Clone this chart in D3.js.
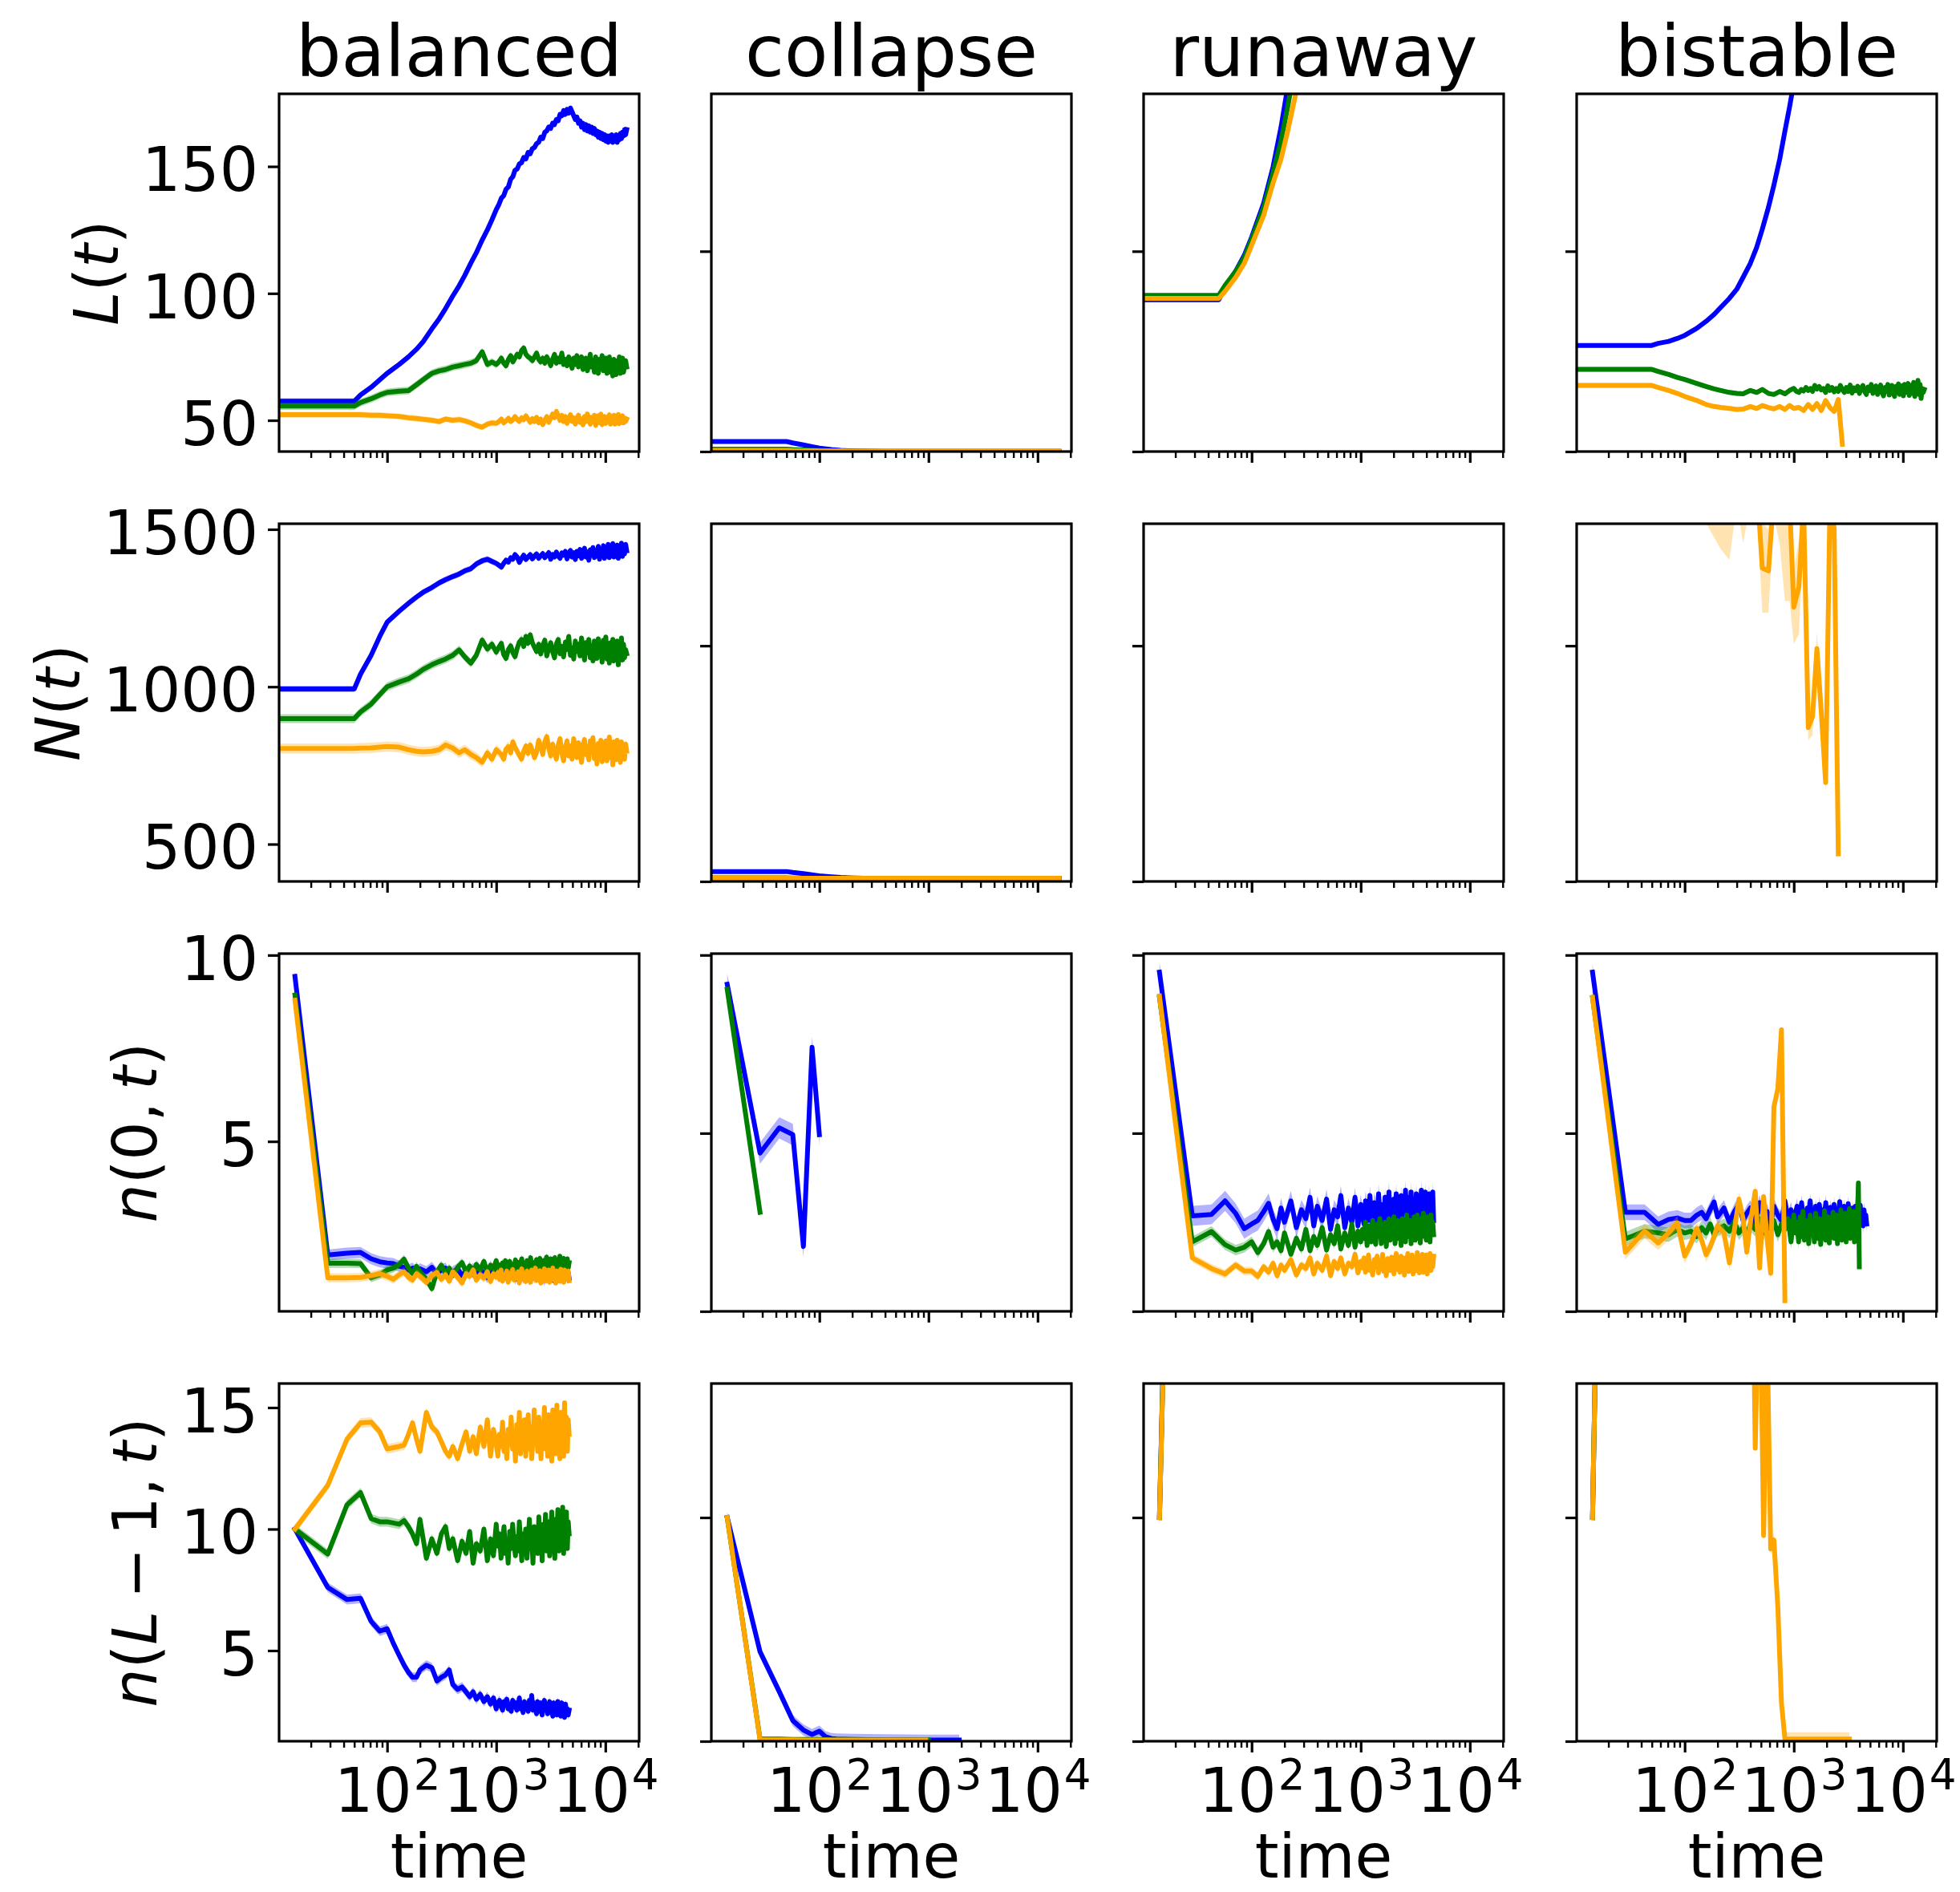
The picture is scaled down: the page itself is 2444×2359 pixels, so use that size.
<!DOCTYPE html>
<html>
<head>
<meta charset="utf-8">
<title>Chain dynamics by regime</title>
<script src="https://cdn.jsdelivr.net/npm/d3@7/dist/d3.min.js"></script>
<style>
  html, body { margin: 0; padding: 0; background: #fff; }
  svg { display: block; }
  text { font-family: "DejaVu Sans", sans-serif; fill: #000; }
</style>
</head>
<body>
<svg id="fig" width="2444" height="2359" xmlns="http://www.w3.org/2000/svg"></svg>
<script>
// ---------------------------------------------------------------------------
// Categories
// ---------------------------------------------------------------------------
const SCENARIOS = ["balanced", "collapse", "runaway", "bistable"];
const QUANTITIES = ["L", "N", "n0", "nL"];
const SERIES_COLORS = { blue: "#0000ff", green: "#008000", orange: "#ffa500" };

// ---------------------------------------------------------------------------
// Sampling times
// ---------------------------------------------------------------------------
const TIME_A = [1, 14.3, 28.6, 50, 57.1, 71.4, 85.7, 100, 129, 157, 186, 214, 257, 300, 343, 400,
  457, 514, 586, 657, 743, 829, 914, 1000, 1114, 1229, 1357, 1486, 1629, 1786, 1957, 2143,
  2343, 2557, 2786, 3029, 3286, 3557, 3843, 4143, 4457, 4786, 5129, 5486, 5857, 6243, 6643, 7057,
  7486, 7929, 8386, 8857, 9343, 9843, 10357, 10886, 11429, 11986, 12557, 13143, 13743, 14357, 15000, 15700];
// finer sampling of the long runs
const TIME_A2 = [1, 14.3, 28.6, 50, 57.1, 71.4, 85.7, 100, 129, 157, 186, 214, 257, 300, 343, 400,
  457, 514, 586, 657, 743, 829, 914, 1000,
  1057, 1114, 1171, 1229, 1293, 1357, 1421, 1486, 1557, 1629, 1707, 1786, 1871, 1957, 2050, 2143,
  2243, 2343, 2450, 2557, 2671, 2786, 2907, 3029, 3157, 3286, 3421, 3557, 3700, 3843, 3993, 4143,
  4300, 4457, 4621, 4786, 4957, 5129, 5307, 5486, 5671, 5857, 6050, 6243, 6443, 6643, 6850, 7057,
  7271, 7486, 7707, 7929, 8157, 8386, 8621, 8857, 9100, 9343, 9593, 9843, 10100, 10357, 10621, 10886,
  11157, 11429, 11707, 11986, 12271, 12557, 12850, 13143, 13443, 13743, 14050, 14357, 14679, 15000, 15350, 15700];
const TIME_SPARSE = [1, 14.3, 28.6, 50, 57.1, 71.4, 85.7, 100, 129, 157, 186, 214, 257, 300, 400, 1000, 3000, 8000, 15700];
const TIME_B = [14.3, 28.6, 42.9, 57.1, 71.4, 85.7, 100, 114, 129, 143, 157, 171, 186, 200, 229, 257,
  286, 314, 343, 371, 400, 443, 486, 529, 571, 614, 657, 714, 771, 829, 886, 943,
  1000, 1071, 1143, 1214, 1286, 1371, 1457, 1543, 1629, 1714, 1814, 1914, 2014, 2114, 2229, 2343,
  2457, 2571, 2700, 2829, 2957, 3086, 3229, 3371, 3514, 3671, 3829, 3986, 4143, 4314, 4486, 4657];
const TIME_B2 = [14.3, 28.6, 42.9, 57.1, 71.4, 85.7, 100, 114, 129, 143, 157, 171, 186, 200, 229, 257,
  286, 314, 343, 371, 400, 443, 486, 529, 571, 614, 657, 714, 771, 829, 886, 943, 1000,
  1035, 1071, 1107, 1143, 1179, 1214, 1250, 1286, 1329, 1371, 1414, 1457, 1500, 1543, 1586, 1629,
  1671, 1714, 1764, 1814, 1864, 1914, 1964, 2014, 2064, 2114, 2171, 2229, 2286, 2343, 2400, 2457,
  2514, 2571, 2636, 2700, 2764, 2829, 2893, 2957, 3021, 3086, 3157, 3229, 3300, 3371, 3443, 3514,
  3593, 3671, 3750, 3829, 3907, 3986, 4064, 4143, 4229, 4314, 4400, 4486, 4571, 4657];
const TIME_C4 = [14.3, 28.6, 42.9, 57.1, 71.4, 85.7, 100, 114, 129, 143, 200, 400, 943, 1000, 1914];

// ---------------------------------------------------------------------------
// L(t): chain length
// ---------------------------------------------------------------------------
const L_BAL_BLUE = [57.5, 57.5, 57.5, 57.5, 60, 63, 66, 68.5, 72, 75, 78, 81, 86, 90, 94, 99,
  103, 107, 112, 116, 121, 125, 129, 133,
  135, 137.5, 138.5, 141, 142, 145, 146, 148.5, 149, 151,
  151.5, 153.5, 153, 155.5, 155, 157, 157.5, 159, 159.5, 161.5,
  161, 163.5, 164, 165.5, 165, 167, 166.5, 168.5, 168, 170.5,
  170, 172, 170.5, 172.5, 171, 173, 171.5, 170, 168.5, 169.5,
  167, 168, 165.5, 167, 164.5, 166.5, 164, 166, 163.5, 165.5,
  163, 165, 162.5, 164, 161.5, 163.5, 161, 163, 160.5, 162.5,
  160, 162, 159.5, 162, 160, 162.5, 159.5, 162, 160, 162.5,
  159.5, 162, 160.5, 163, 161, 163.5, 162, 164.5, 162.5, 164.5];
const L_BAL_GREEN = [55.6, 55.6, 55.6, 55.6, 57, 58.5, 60, 61, 61.5, 61.7, 64, 66, 68.5, 69.5, 70, 71,
  71.5, 72, 72.5, 73.5, 77, 72, 73, 72,
  73, 74.5, 72.5, 71.5, 74, 75.5, 73, 74.5, 76, 75,
  77.5, 78.5, 76, 75, 74.5, 73.5, 75, 76.5, 74, 73,
  74.5, 72.5, 75, 73.5, 71.5, 74, 76, 72.5, 74.5, 73,
  76.5, 72, 74, 71.5, 75, 73, 70.5, 74.5, 72, 75.5,
  71, 73.5, 75, 70, 72.5, 74.5, 69.5, 73, 76, 71,
  73.5, 69, 75, 71.5, 68.5, 74, 72, 75.5, 69.5, 72.5,
  74.5, 68.5, 71.5, 75, 69, 73, 67.5, 74, 71, 68,
  73.5, 70, 75, 68.5, 72, 74.5, 69, 71.5, 73.5, 71];
const L_BAL_ORANGE = [52.2, 52.2, 52.2, 52.2, 52.2, 52, 52, 51.8, 51.5, 51, 50.7, 50.4, 50, 49.5, 50.5, 50,
  50.3, 49.8, 49, 48, 47.3, 48.5, 49, 48.8,
  49.5, 50.5, 49, 49.8, 50.8, 49.5, 50.2, 51.5, 50.3, 49.6,
  51, 50.2, 51.8, 50.5, 49.2, 50.7, 49.5, 51.2, 49, 50.5,
  48.3, 50, 51.5, 49.2, 50.8, 52.5, 51, 53.5, 51.8, 50,
  52, 49.5, 51.5, 48.8, 50.5, 52.2, 49.6, 51, 48.5, 50.8,
  52, 49.2, 50.5, 48.2, 51.5, 49.5, 52.5, 50, 48.5, 51.2,
  49.3, 52, 48, 50.5, 51.8, 49, 52.5, 48.3, 50.2, 51.5,
  48.8, 51, 49.5, 52.2, 48.5, 50.8, 49.2, 52, 48.5, 51.5,
  49.5, 52.3, 48.7, 50.5, 49.2, 51.8, 49, 50.8, 49.6, 50.5];

const L_COL_BLUE = [5, 5, 5, 5, 4.3, 3.3, 2.4, 1.7, 1.0, 0.6, 0.4, 0.3, 0.25, 0.2, 0.15, 0.12, 0.12, 0.12, 0.12];
const L_COL_GREEN = [1.2, 1.2, 1.2, 1.2, 1.0, 0.8, 0.6, 0.5, 0.4, 0.3, 0.25, 0.2, 0.2, 0.15, 0.12, 0.1, 0.1, 0.1, 0.1];
const L_COL_ORANGE = [0.6, 0.6, 0.6, 0.6, 0.5, 0.45, 0.4, 0.35, 0.3, 0.3, 0.25, 0.2, 0.2, 0.2, 0.2, 0.2, 0.2, 0.2, 0.2];

const L_RUN_BLUE = [75.8, 75.8, 75.8, 75.8, 82, 90, 98, 107, 124, 142, 162, 182, 215, 250];
const L_RUN_GREEN = [78, 78, 78, 78, 83, 90, 97, 106, 122, 139, 155, 172, 196, 225];
const L_RUN_ORANGE = [76.5, 76.5, 76.5, 76.5, 80, 87, 94, 103, 118, 134, 146, 160, 180, 205];

const L_BIS_BLUE = [53, 53, 53, 53, 54, 55, 56.5, 58, 61.5, 65, 68.5, 72, 76.5, 81, 87, 94,
  102, 111, 122, 133, 146, 160, 172, 184, 200, 215];
const L_BIS_GREEN = [41, 41, 41, 41, 40, 38.5, 37, 36, 34, 32.5, 31.3, 30.5, 29.5, 29, 28.8, 30.5,
  29.5, 31, 29, 28.5, 30, 28.8, 30.5, 31.5,
  30, 29.5, 31, 30.2, 32, 30.5, 31.5, 30, 33, 31.2,
  32.5, 30.8, 31.5, 29.5, 32.8, 30.5, 32, 29.8, 31.5, 30,
  33, 31, 29.5, 32, 30, 33.2, 29.2, 31.8, 30.4, 32.6,
  29, 31.5, 33, 30, 28.5, 32.2, 30.5, 33.5, 29, 31.2,
  32.8, 28.5, 31, 33.2, 29.5, 27.8, 32, 30.2, 33.5, 28.2,
  31.5, 33, 29, 27.5, 32.5, 30, 33.8, 28.5, 31, 32.8,
  27.8, 33.5, 29.5, 31.5, 34, 28, 30.5, 33, 29, 34.5,
  27.5, 32, 30, 35.5, 28.5, 33.5, 26.5, 31.5, 29.5, 31];
const L_BIS_ORANGE = [33, 33, 33, 33, 32, 30.5, 29, 27.5, 25.5, 23.5, 22.5, 22, 21.5, 21, 21.2, 22.5,
  21.5, 23, 22, 21.3, 22.5, 21, 23, 21.5, 22, 20.5, 23.5, 21, 24, 20.5, 25.5, 22,
  20, 26, 3.6];

// ---------------------------------------------------------------------------
// N(t): total population
// ---------------------------------------------------------------------------
const N_BAL_BLUE = [993, 993, 993, 993, 1040, 1100, 1160, 1205, 1240, 1265, 1285, 1300, 1315, 1330, 1340, 1350,
  1358, 1368, 1375, 1390, 1400, 1405, 1398, 1392,
  1386, 1380, 1392, 1402, 1396, 1410, 1405, 1420, 1412, 1395,
  1408, 1418, 1404, 1412, 1420, 1406, 1415, 1422, 1408, 1416,
  1423, 1410, 1418, 1426, 1405, 1420, 1412, 1428, 1415, 1408,
  1425, 1418, 1430, 1406, 1422, 1433, 1412, 1426, 1404, 1430,
  1416, 1436, 1408, 1425, 1440, 1412, 1428, 1402, 1435, 1418,
  1442, 1410, 1430, 1415, 1446, 1405, 1432, 1420, 1448, 1408,
  1436, 1418, 1452, 1410, 1440, 1424, 1455, 1412, 1438, 1420,
  1450, 1408, 1442, 1426, 1456, 1414, 1445, 1422, 1452, 1432];
const N_BAL_GREEN = [899, 899, 899, 899, 920, 945, 975, 1000, 1015, 1025, 1040, 1055, 1070, 1080, 1088, 1100,
  1117, 1095, 1075, 1100, 1148, 1120, 1135, 1110,
  1125, 1138, 1102, 1090, 1118, 1130, 1108, 1095, 1122, 1142,
  1150, 1128, 1160, 1138, 1165, 1140, 1125, 1112, 1135, 1104,
  1130, 1148, 1098, 1122, 1140, 1112, 1092, 1136, 1150, 1105,
  1128, 1095, 1142, 1118, 1160, 1100, 1124, 1088, 1145, 1112,
  1135, 1098, 1155, 1120, 1085, 1140, 1108, 1150, 1092, 1130,
  1082, 1145, 1115, 1090, 1152, 1100, 1135, 1078, 1148, 1110,
  1158, 1088, 1125, 1075, 1140, 1098, 1150, 1082, 1132, 1105,
  1145, 1070, 1128, 1098, 1155, 1085, 1135, 1092, 1118, 1105];
const N_BAL_ORANGE = [804, 804, 804, 804, 805, 806, 808, 810, 808, 800, 795, 793, 795, 800, 815, 805,
  790, 800, 785, 775, 760, 790, 770, 800,
  792, 785, 770, 802, 810, 790, 825, 808, 795, 782,
  770, 795, 812, 788, 815, 798, 775, 792, 830, 810,
  785, 825, 842, 805, 780, 818, 792, 770, 815, 835,
  790, 765, 808, 828, 780, 812, 770, 835, 798, 775,
  822, 790, 760, 815, 832, 785, 805, 768, 828, 795,
  838, 772, 810, 755, 820, 790, 830, 762, 812, 785,
  828, 765, 805, 840, 775, 815, 752, 825, 790, 768,
  830, 778, 812, 760, 825, 785, 808, 770, 818, 795];

const N_COL_BLUE = [42, 42, 42, 42, 38, 33, 28, 24, 20, 17, 15.5, 14.5, 14, 14, 14, 14, 14, 14, 14];
const N_COL_GREEN = [15, 15, 15, 15, 14.5, 14, 14, 14, 14, 14, 14, 14, 14, 14, 14, 14, 14, 14, 14];
const N_COL_ORANGE = [14, 14, 14, 14, 14, 14, 14, 14, 14, 14, 14, 14, 14, 14, 14, 14, 14, 14, 14];

const N_RUN_BLUE = [1700, 1700, 1700, 1700, 1780, 1900, 2050, 2200];
const N_RUN_GREEN = [1760, 1760, 1760, 1760, 1830, 1940, 2080, 2230];
const N_RUN_ORANGE = [1720, 1720, 1720, 1720, 1790, 1890, 2020, 2160];

const N_BIS_BLUE = [1760, 1760, 1760, 1760, 1780, 1810, 1850, 1900, 1980, 2080];
const N_BIS_GREEN = [1640, 1640, 1640, 1640, 1650, 1660, 1670, 1680, 1690, 1700];
const N_BIS_ORANGE = [1900, 1900, 1900, 1900, 1880, 1850, 1820, 1800, 1760, 1700, 1700, 1700, 1700, 1700, 1700, 1700,
  1700, 1330, 1318, 1650, 1700, 1650, 1620, 1164, 1250, 1600, 653, 700, 988, 718, 420, 1600,
  1500, 117];
const N_BIS_ORANGE_CI = [60, 60, 60, 60, 60, 60, 60, 60, 60, 180, 240, 290, 335, 100, 265, 100,
  100, 190, 177, 100, 270, 460, 430, 157, 200, 100, 53, 80, 71, 50, 40, 100,
  100, 30];

// ---------------------------------------------------------------------------
// n(0, t): occupancy of the first site
// ---------------------------------------------------------------------------
const N0_BAL_BLUE = [9.43, 1.95, 2.0, 2.02, 1.85, 1.77, 1.74, 1.72, 1.65, 1.62, 1.55, 1.6, 1.48, 1.58, 1.5, 1.62,
  1.45, 1.55, 1.6, 1.42, 1.5, 1.58, 1.4, 1.52, 1.45, 1.6, 1.38, 1.55, 1.47, 1.35, 1.52, 1.44, 1.58,
  1.42, 1.36, 1.5, 1.55, 1.4, 1.48, 1.33, 1.45, 1.56, 1.38,
  1.5, 1.42, 1.3, 1.47, 1.55, 1.36, 1.44, 1.52, 1.32, 1.46,
  1.4, 1.54, 1.35, 1.28, 1.48, 1.42, 1.55, 1.33, 1.45, 1.38,
  1.52, 1.3, 1.46, 1.4, 1.56, 1.34, 1.27, 1.48, 1.42, 1.35,
  1.53, 1.3, 1.45, 1.38, 1.5, 1.26, 1.44, 1.36, 1.52, 1.31,
  1.46, 1.4, 1.28, 1.5, 1.35, 1.43, 1.55, 1.3, 1.45, 1.38,
  1.48, 1.33];
const N0_BAL_GREEN = [8.93, 1.73, 1.73, 1.72, 1.34, 1.42, 1.55, 1.6, 1.7, 1.84, 1.6, 1.45, 1.65, 1.5, 1.3, 1.05,
  1.5, 1.68, 1.45, 1.6, 1.4, 1.62, 1.75, 1.5, 1.66, 1.42, 1.7, 1.55, 1.78, 1.48, 1.68, 1.58, 1.8,
  1.55, 1.68, 1.5, 1.74, 1.62, 1.8, 1.52, 1.66, 1.78, 1.58,
  1.7, 1.5, 1.82, 1.63, 1.55, 1.76, 1.6, 1.85, 1.52, 1.7,
  1.64, 1.8, 1.55, 1.72, 1.88, 1.6, 1.5, 1.75, 1.66, 1.83,
  1.57, 1.7, 1.86, 1.52, 1.68, 1.8, 1.6, 1.74, 1.9, 1.55,
  1.72, 1.62, 1.85, 1.5, 1.76, 1.66, 1.88, 1.56, 1.7, 1.82,
  1.6, 1.92, 1.55, 1.74, 1.68, 1.86, 1.58, 1.78, 1.64, 1.85,
  1.6, 1.75];
const N0_BAL_ORANGE = [8.79, 1.34, 1.34, 1.35, 1.4, 1.45, 1.38, 1.3, 1.42, 1.5, 1.35, 1.28, 1.45, 1.38, 1.22, 1.4,
  1.48, 1.3, 1.42, 1.25, 1.5, 1.35, 1.2, 1.45, 1.38, 1.55, 1.28, 1.42, 1.33, 1.5, 1.24, 1.45, 1.36,
  1.48, 1.3, 1.55, 1.25, 1.42, 1.35, 1.52, 1.22, 1.46, 1.38,
  1.56, 1.28, 1.44, 1.33, 1.5, 1.2, 1.45, 1.58, 1.3, 1.4,
  1.24, 1.52, 1.36, 1.47, 1.22, 1.55, 1.32, 1.44, 1.6, 1.27,
  1.42, 1.35, 1.53, 1.2, 1.48, 1.3, 1.58, 1.25, 1.45, 1.38,
  1.55, 1.22, 1.46, 1.34, 1.6, 1.28, 1.43, 1.2, 1.52, 1.36,
  1.48, 1.25, 1.57, 1.32, 1.44, 1.22, 1.55, 1.3, 1.46, 1.38,
  1.52, 1.26];

const N0_COL_BLUE = [9.18, 4.44, 5.15, 4.96, 1.82, 7.41, 4.96];
const N0_COL_GREEN = [9.04, 2.78];

const N0_RUN_BLUE = [9.52, 2.68, 2.72, 3.1, 2.75, 2.32, 2.45, 2.55, 2.8, 3.03, 2.6, 2.32, 2.9, 2.5, 3.1, 2.35,
  2.85, 2.6, 3.2, 2.4, 2.95, 2.55, 3.15, 2.3, 2.85, 2.65, 3.25, 2.35, 2.9, 2.5, 3.2, 2.4, 3.0,
  2.7, 2.45, 3.1, 2.85, 2.55, 3.25, 2.65, 2.4, 3.05, 2.9,
  2.5, 3.3, 2.75, 2.35, 3.0, 2.6, 3.2, 2.45, 2.85, 3.35,
  2.55, 2.95, 2.4, 3.15, 2.7, 3.3, 2.5, 2.9, 2.38, 3.25,
  2.65, 3.05, 2.45, 3.4, 2.75, 2.5, 3.2, 2.6, 3.35, 2.4,
  2.95, 3.15, 2.55, 3.3, 2.7, 2.42, 3.1, 2.8, 3.4, 2.5,
  3.0, 2.6, 3.35, 2.45, 3.15, 2.75, 3.3, 2.5, 3.05, 2.65,
  3.35, 2.55];
const N0_RUN_GREEN = [8.81, 1.95, 2.24, 1.87, 1.72, 1.8, 1.95, 1.65, 1.9, 2.24, 1.8, 1.95, 1.7, 2.2, 1.6, 2.05,
  1.75, 2.3, 1.7, 2.1, 1.85, 2.35, 1.72, 2.15, 1.9, 2.4, 1.75, 2.2, 1.85, 2.45, 1.8, 2.25, 1.95,
  2.3, 2.05, 2.5, 1.85, 2.2, 2.4, 1.95, 2.55, 2.1, 1.88,
  2.45, 2.25, 2.6, 1.9, 2.3, 2.05, 2.5, 1.82, 2.35, 2.6,
  2.0, 2.45, 2.15, 2.65, 1.9, 2.3, 2.55, 2.05, 2.4, 1.85,
  2.6, 2.2, 2.45, 1.95, 2.7, 2.1, 2.35, 2.55, 1.9, 2.5,
  2.25, 2.65, 2.0, 2.4, 2.7, 2.05, 2.5, 1.92, 2.6, 2.3,
  2.75, 2.1, 2.45, 2.0, 2.65, 2.25, 2.55, 1.95, 2.7, 2.35,
  2.5, 2.15];
const N0_RUN_ORANGE = [8.85, 1.5, 1.2, 1.05, 1.3, 1.13, 1.13, 0.98, 1.25, 1.1, 1.35, 1.0, 1.3, 1.15, 1.45, 1.02,
  1.3, 1.2, 1.5, 1.05, 1.35, 1.15, 1.55, 1.0, 1.4, 1.2, 1.5, 1.05, 1.35, 1.25, 1.6, 1.08, 1.4,
  1.22, 1.5, 1.1, 1.38, 1.58, 1.15, 1.3, 1.02, 1.45, 1.25,
  1.55, 1.08, 1.35, 1.2, 1.6, 1.12, 1.42, 1.0, 1.48, 1.28,
  1.15, 1.52, 1.32, 1.05, 1.45, 1.62, 1.18, 1.38, 1.1, 1.55,
  1.25, 1.4, 1.02, 1.5, 1.3, 1.62, 1.12, 1.45, 1.2, 1.58,
  1.05, 1.35, 1.5, 1.15, 1.65, 1.28, 1.08, 1.48, 1.22, 1.6,
  1.1, 1.42, 1.3, 1.58, 1.05, 1.45, 1.2, 1.62, 1.15, 1.4,
  1.25, 1.55];

const N0_BIS_BLUE = [9.52, 2.78, 2.78, 2.44, 2.58, 2.62, 2.55, 2.55, 2.7, 2.78, 2.6, 2.85, 3.07, 2.65, 2.9, 2.5,
  2.8, 3.0, 2.55, 2.75, 2.9, 2.5, 3.05, 2.6, 2.8, 2.45, 2.95, 2.7, 2.55, 3.1, 2.6, 2.85, 2.45,
  2.75, 2.95, 2.5, 2.7, 3.05, 2.6, 2.82, 2.45, 2.9, 2.65,
  3.1, 2.55, 2.78, 2.4, 2.95, 2.68, 2.5, 3.0, 2.62, 2.85,
  2.45, 2.72, 3.05, 2.55, 2.8, 2.38, 2.92, 2.65, 2.5, 3.0,
  2.6, 2.85, 2.42, 2.75, 3.08, 2.52, 2.7, 2.4, 2.95, 2.62,
  2.8, 2.48, 3.02, 2.58, 2.72, 2.36, 2.9, 2.65, 2.5, 2.95,
  2.55, 2.8, 2.42, 2.7, 2.98, 2.5, 2.75, 2.4, 2.85, 2.55,
  2.7, 2.45];
const N0_BIS_GREEN = [8.81, 2.03, 2.25, 2.2, 2.15, 2.3, 2.2, 2.25, 2.1, 2.35, 2.2, 2.45, 2.15, 2.3, 2.4, 2.25,
  2.5, 2.2, 2.35, 2.15, 2.45, 2.3, 2.6, 2.2, 2.4, 2.3, 2.55, 2.15, 2.45, 2.3, 2.6, 1.95, 2.7,
  2.2, 2.5, 1.95, 2.65, 2.1, 2.8, 2.0, 2.55, 2.3, 1.9,
  2.7, 2.15, 2.45, 1.95, 2.75, 2.25, 2.05, 2.6, 1.88, 2.5,
  2.3, 2.82, 2.0, 2.45, 2.65, 1.92, 2.55, 2.2, 2.78, 2.05,
  2.4, 2.7, 1.9, 2.6, 2.25, 2.85, 2.0, 2.5, 2.35, 2.75,
  1.95, 2.62, 2.3, 2.88, 2.05, 2.55, 2.2, 2.8, 1.95, 2.65,
  2.3, 2.6, 3.6, 1.25];
const N0_BIS_ORANGE = [8.81, 1.66, 2.25, 1.92, 2.2, 2.48, 1.55, 1.9, 2.33, 2.0, 1.59, 1.8, 2.1, 2.4, 2.2, 1.36,
  2.3, 3.15, 2.6, 1.66, 2.5, 3.37, 1.22, 3.22, 2.0, 1.07, 5.73, 6.25, 7.9, 0.3];

// ---------------------------------------------------------------------------
// n(L - 1, t): occupancy of the last site
// ---------------------------------------------------------------------------
const NL_BAL_BLUE = [10, 7.6, 7.1, 7.15, 6.2, 5.8, 5.9, 5.3, 4.8, 4.4, 4.1, 3.9, 3.9, 4.2, 4.4, 4.3,
  3.75, 3.9, 4.0, 4.2, 3.6, 3.4, 3.5, 3.3, 3.1, 3.3, 3.0, 3.2, 2.9, 3.1, 2.8, 3.05, 2.6,
  2.85, 2.95, 2.7, 2.55, 2.9, 2.75, 3.0, 2.6, 2.8, 2.5,
  2.95, 2.7, 2.85, 2.55, 2.75, 3.05, 2.6, 2.8, 2.45, 2.9,
  2.65, 2.8, 2.5, 2.95, 2.7, 3.15, 2.55, 2.85, 2.6, 2.4,
  2.9, 2.7, 2.5, 2.85, 2.35, 2.75, 2.95, 2.55, 2.8, 2.4,
  2.7, 2.9, 2.45, 2.65, 2.3, 2.85, 2.6, 2.75, 2.35, 2.9,
  2.55, 2.7, 2.3, 2.85, 2.5, 2.65, 2.25, 2.8, 2.45, 2.6,
  2.35, 2.55];
const NL_BAL_GREEN = [10, 8.97, 11.0, 11.5, 10.43, 10.3, 10.3, 10.25, 10.2, 10.35, 10.1, 9.8, 9.4, 10.4, 8.8, 9.6,
  9.0, 9.8, 10.1, 9.2, 9.6, 8.7, 9.5, 9.0, 9.9, 8.6, 9.4, 9.1, 10.0, 8.7, 9.6, 8.9, 10.2,
  9.3, 9.8, 8.8, 9.6, 10.1, 9.0, 9.5, 8.6, 9.9, 9.2,
  10.2, 9.4, 8.9, 9.7, 9.1, 10.3, 9.5, 8.7, 9.8, 9.3,
  10.0, 8.8, 9.6, 10.4, 9.2, 9.7, 8.6, 10.1, 9.4, 9.9,
  9.0, 10.5, 9.3, 9.8, 8.7, 10.2, 9.5, 10.6, 9.1, 9.6,
  10.3, 8.9, 9.9, 10.7, 9.2, 9.7, 8.8, 10.4, 9.5, 10.8,
  9.1, 9.9, 10.5, 9.3, 10.9, 9.0, 10.2, 9.6, 10.7, 9.2,
  10.3, 9.8];
const NL_BAL_ORANGE = [10, 11.8, 13.7, 14.37, 14.4, 14.0, 13.3, 13.35, 13.4, 13.45, 13.9, 14.37, 13.7, 13.2, 14.8, 14.2,
  14.0, 13.6, 13.2, 13.0, 13.4, 12.9, 13.5, 14.0, 13.2, 13.8, 13.1, 14.2, 13.4, 14.5, 13.0, 14.1, 13.5,
  13.0, 13.9, 13.4, 14.4, 13.2, 13.7, 12.9, 14.1, 13.5, 14.6,
  13.3, 13.8, 12.8, 14.3, 13.6, 14.8, 13.1, 14.0, 13.4, 14.5,
  13.0, 13.9, 14.7, 13.3, 14.2, 12.9, 13.7, 14.9, 13.5, 14.1,
  13.2, 14.6, 13.8, 12.9, 14.4, 13.6, 15.0, 13.3, 14.2, 13.0,
  14.7, 13.5, 14.1, 12.8, 14.9, 13.7, 14.3, 13.1, 15.1, 13.6,
  14.4, 12.9, 14.8, 13.8, 14.2, 13.0, 15.2, 13.5, 14.6, 13.2,
  14.5, 13.9];

const NL_COL_BLUE = [10, 4.0, 2.22, 0.92, 0.5, 0.3, 0.45, 0.2, 0.12, 0.1, 0.08, 0.06, 0.05, 0.05, 0.05];
const NL_COL_GREEN = [10, 0.1, 0.1, 0.08, 0.08, 0.08, 0.07, 0.07, 0.06, 0.06, 0.06, 0.05, 0.05, 0.05];
const NL_COL_ORANGE = [10, 0.06, 0.06, 0.06, 0.05, 0.05, 0.05, 0.05, 0.05, 0.05, 0.05, 0.05, 0.05];

const NL_RUN_BLUE = [10, 72, 150];
const NL_RUN_GREEN = [10, 70, 140];
const NL_RUN_ORANGE = [10, 68, 130];

const NL_BIS_BLUE = [10, 90, 180];
const NL_BIS_GREEN = [10, 90, 175];
const NL_BIS_ORANGE = [10, 90, 150, 190, 220, 240, 250, 255, 250, 240, 225, 210, 190, 170, 150, 125,
  100, 80, 60, 45, 30, 13.1, 22, 9.2, 18, 8.6, 9.0, 6.0, 1.7, 0.1, 0.1, 0.1,
  0.1, 0.1, 0.1, 0.1, 0.1, 0.1, 0.1, 0.1, 0.1, 0.1, 0.1, 0.1, 0.1, 0.1, 0.1, 0.1,
  0.1, 0.1, 0.1, 0.1, 0.1, 0.1, 0.1];

// ---------------------------------------------------------------------------
// Axis ticks and labels
// ---------------------------------------------------------------------------
const Y_TICKS_FIRST = { L: [50, 100, 150], N: [500, 1000, 1500], n0: [5, 10], nL: [5, 10, 15] };
const Y_TICKS_OTHER = { L: [0, 100], N: [0, 1000], n0: [0, 5, 10], nL: [0, 10] };
const X_MAJOR = [100, 1000, 10000];
const X_MINOR = [20, 30, 40, 50, 60, 70, 80, 90, 200, 300, 400, 500, 600, 700, 800, 900,
  2000, 3000, 4000, 5000, 6000, 7000, 8000, 9000, 20000];
// y labels as [text, italic?] runs, written like the math labels
const Y_LABELS = {
  L: [["L", 1], ["(", 0], ["t", 1], [")", 0]],
  N: [["N", 1], ["(", 0], ["t", 1], [")", 0]],
  n0: [["n", 1], ["(0,\u2009", 0], ["t", 1], [")", 0]],
  nL: [["n", 1], ["(", 0], ["L", 1], ["\u2009\u2212\u20091,\u2009", 0], ["t", 1], [")", 0]]
};
const X_LABEL = "time";

// ---------------------------------------------------------------------------
// Layout
// ---------------------------------------------------------------------------
const PANEL_W = 449, PANEL_H = 446;
const COL_X = [348, 887, 1426, 1966];
const ROW_Y = [117, 653, 1189, 1725];
const X_DOMAIN = [10.233, 20417];
// first-column limits of each row; the other columns run from 0 to the same top
const ROW_LIMITS = { L: [37.7, 178.6], N: [381.5, 1517.8], n0: [0.44, 10.04], nL: [1.27, 15.99] };
const FONT = 76, TITLE_FONT = 89;
const LINE_W = 6, SPINE_W = 3.2, MINOR_W = 2.4;

// ---------------------------------------------------------------------------
// Table of series per panel
// ---------------------------------------------------------------------------
const ser = (color, t, v, ci) => ({ color, t, v, ci });
const PANELS = {
  L: {
    balanced: [ser("blue", TIME_A2, L_BAL_BLUE, 1.2), ser("green", TIME_A2, L_BAL_GREEN, 1.5), ser("orange", TIME_A2, L_BAL_ORANGE, 1.2)],
    collapse: [ser("blue", TIME_SPARSE, L_COL_BLUE, 0.3), ser("green", TIME_SPARSE, L_COL_GREEN, 0.2), ser("orange", TIME_SPARSE, L_COL_ORANGE, 0.2)],
    runaway: [ser("blue", TIME_A, L_RUN_BLUE, 1.0), ser("green", TIME_A, L_RUN_GREEN, 1.0), ser("orange", TIME_A, L_RUN_ORANGE, 1.0)],
    bistable: [ser("blue", TIME_A, L_BIS_BLUE, 1.0), ser("green", TIME_A2, L_BIS_GREEN, 1.2), ser("orange", TIME_A, L_BIS_ORANGE, 1.2)]
  },
  N: {
    balanced: [ser("blue", TIME_A2, N_BAL_BLUE, 10), ser("green", TIME_A2, N_BAL_GREEN, 14), ser("orange", TIME_A2, N_BAL_ORANGE, 16)],
    collapse: [ser("blue", TIME_SPARSE, N_COL_BLUE, 2), ser("green", TIME_SPARSE, N_COL_GREEN, 2), ser("orange", TIME_SPARSE, N_COL_ORANGE, 2)],
    runaway: [ser("blue", TIME_A, N_RUN_BLUE, 20), ser("green", TIME_A, N_RUN_GREEN, 20), ser("orange", TIME_A, N_RUN_ORANGE, 20)],
    bistable: [ser("blue", TIME_A, N_BIS_BLUE, 30), ser("green", TIME_A, N_BIS_GREEN, 30), ser("orange", TIME_A, N_BIS_ORANGE, N_BIS_ORANGE_CI)]
  },
  n0: {
    balanced: [ser("blue", TIME_B2, N0_BAL_BLUE, 0.15), ser("green", TIME_B2, N0_BAL_GREEN, 0.12), ser("orange", TIME_B2, N0_BAL_ORANGE, 0.12)],
    collapse: [ser("blue", TIME_B, N0_COL_BLUE, 0.3), ser("green", TIME_B, N0_COL_GREEN, 0.12)],
    runaway: [ser("blue", TIME_B2, N0_RUN_BLUE, 0.28), ser("green", TIME_B2, N0_RUN_GREEN, 0.15), ser("orange", TIME_B2, N0_RUN_ORANGE, 0.12)],
    bistable: [ser("blue", TIME_B2, N0_BIS_BLUE, 0.22), ser("green", TIME_B2, N0_BIS_GREEN, 0.2), ser("orange", TIME_B, N0_BIS_ORANGE, 0.2)]
  },
  nL: {
    balanced: [ser("blue", TIME_B2, NL_BAL_BLUE, 0.2), ser("green", TIME_B2, NL_BAL_GREEN, 0.2), ser("orange", TIME_B2, NL_BAL_ORANGE, 0.2)],
    collapse: [ser("blue", TIME_C4, NL_COL_BLUE, 0.25), ser("green", TIME_C4, NL_COL_GREEN, 0.05), ser("orange", TIME_C4, NL_COL_ORANGE, 0.05)],
    runaway: [ser("blue", TIME_B, NL_RUN_BLUE, 0.3), ser("green", TIME_B, NL_RUN_GREEN, 0.3), ser("orange", TIME_B, NL_RUN_ORANGE, 0.3)],
    bistable: [ser("blue", TIME_B, NL_BIS_BLUE, 0.3), ser("green", TIME_B, NL_BIS_GREEN, 0.3), ser("orange", TIME_B, NL_BIS_ORANGE, 0.3)]
  }
};

// ---------------------------------------------------------------------------
// Drawing
// ---------------------------------------------------------------------------
const svg = d3.select("#fig");
svg.append("rect").attr("width", 2444).attr("height", 2359).attr("fill", "#fff");
const defs = svg.append("defs");

const x = d3.scaleLog().domain(X_DOMAIN).range([0, PANEL_W]);

QUANTITIES.forEach((q, r) => {
  SCENARIOS.forEach((scen, c) => {
    const lim = c === 0 ? ROW_LIMITS[q] : [0, ROW_LIMITS[q][1]];
    const y = d3.scaleLinear().domain(lim).range([PANEL_H, 0]);
    const g = svg.append("g").attr("transform", `translate(${COL_X[c]},${ROW_Y[r]})`);

    const clipId = `clip-${r}-${c}`;
    defs.append("clipPath").attr("id", clipId)
      .append("rect").attr("width", PANEL_W).attr("height", PANEL_H);
    const plot = g.append("g").attr("clip-path", `url(#${clipId})`);

    const line = d3.line().x(d => x(d.t)).y(d => y(d.v));
    const band = d3.area().x(d => x(d.t)).y0(d => y(d.v - d.ci)).y1(d => y(d.v + d.ci));

    (PANELS[q][scen] || []).forEach(s => {
      const pts = s.v.map((v, i) => ({ t: s.t[i], v, ci: Array.isArray(s.ci) ? s.ci[i] : s.ci }));
      plot.append("path").datum(pts).attr("d", band)
        .attr("fill", SERIES_COLORS[s.color]).attr("fill-opacity", 0.3).attr("stroke", "none");
      plot.append("path").datum(pts).attr("d", line)
        .attr("fill", "none").attr("stroke", SERIES_COLORS[s.color])
        .attr("stroke-width", LINE_W).attr("stroke-linejoin", "round").attr("stroke-linecap", "square");
    });

    // y axis
    const yAxis = d3.axisLeft(y)
      .tickValues(c === 0 ? Y_TICKS_FIRST[q] : Y_TICKS_OTHER[q])
      .tickSize(14).tickPadding(12)
      .tickFormat(c === 0 ? d3.format("d") : () => "");
    const ya = g.append("g").call(yAxis).attr("font-family", null).attr("font-size", null);
    ya.select(".domain").remove();
    ya.selectAll(".tick line").attr("stroke", "#000").attr("stroke-width", SPINE_W);
    ya.selectAll(".tick text").attr("font-size", FONT).attr("dy", "0.4em").attr("fill", "#000");

    // x axis: minor then major ticks
    const xMinor = g.append("g").attr("transform", `translate(0,${PANEL_H})`)
      .call(d3.axisBottom(x).tickValues(X_MINOR).tickSize(8).tickFormat(() => ""))
      .attr("font-family", null).attr("font-size", null);
    xMinor.select(".domain").remove();
    xMinor.selectAll(".tick line").attr("stroke", "#000").attr("stroke-width", MINOR_W);

    const xMajor = g.append("g").attr("transform", `translate(0,${PANEL_H})`)
      .call(d3.axisBottom(x).tickValues(X_MAJOR).tickSize(14).tickFormat(() => ""))
      .attr("font-family", null).attr("font-size", null);
    xMajor.select(".domain").remove();
    xMajor.selectAll(".tick line").attr("stroke", "#000").attr("stroke-width", SPINE_W);
    if (r === QUANTITIES.length - 1) {
      xMajor.selectAll(".tick text").each(function (d) {
        const t = d3.select(this);
        t.text(null).attr("y", 88).attr("dy", null).attr("font-size", FONT).attr("fill", "#000");
        t.append("tspan").text("10");
        t.append("tspan").attr("font-size", 53).attr("dx", 2).attr("dy", -28)
          .text(String(Math.round(Math.log10(d))));
      });
    }

    // frame
    g.append("rect").attr("width", PANEL_W).attr("height", PANEL_H)
      .attr("fill", "none").attr("stroke", "#000").attr("stroke-width", SPINE_W);

    // column titles
    if (r === 0) {
      svg.append("text").attr("x", COL_X[c] + PANEL_W / 2).attr("y", 95)
        .attr("text-anchor", "middle").attr("font-size", TITLE_FONT).text(scen);
    }
    // x label
    if (r === QUANTITIES.length - 1) {
      svg.append("text").attr("x", COL_X[c] + PANEL_W / 2).attr("y", 2341)
        .attr("text-anchor", "middle").attr("font-size", FONT).text(X_LABEL);
    }
    // y label, placed left of the tick labels
    if (c === 0) {
      const minX = d3.min(ya.selectAll(".tick text").nodes(), n => n.getBBox().x);
      const bx = COL_X[0] + minX - 30;
      const lab = svg.append("text")
        .attr("transform", `translate(${bx},${ROW_Y[r] + PANEL_H / 2}) rotate(-90)`)
        .attr("text-anchor", "middle").attr("font-size", FONT)
        .style("white-space", "pre");
      Y_LABELS[q].forEach(([txt, it]) => {
        lab.append("tspan").attr("font-style", it ? "italic" : "normal").text(txt);
      });
    }
  });
});
</script>
</body>
</html>
